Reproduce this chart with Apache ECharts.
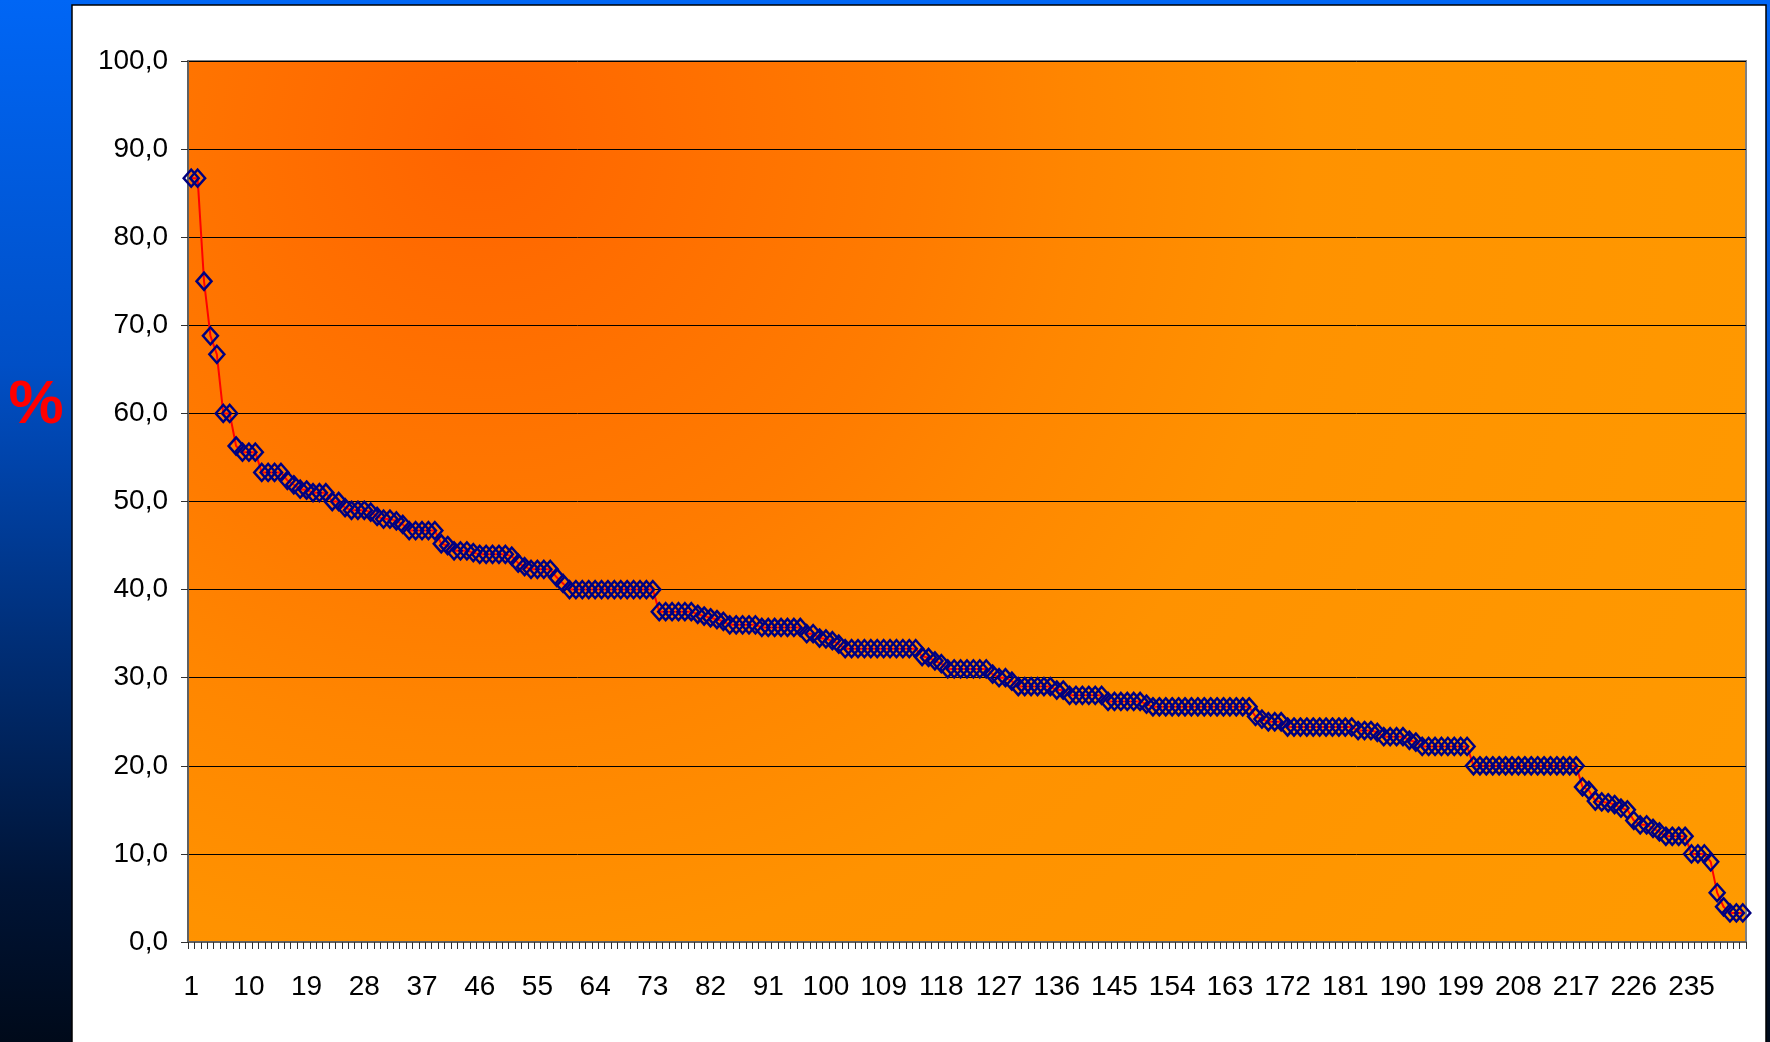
<!DOCTYPE html>
<html>
<head>
<meta charset="utf-8">
<title>Pourcentages classés</title>
<script src="https://cdn.jsdelivr.net/npm/echarts@6.0.0/dist/echarts.min.js"></script>
<style>
  html, body { margin: 0; padding: 0; }
  #chart { width: 1770px; height: 1042px; }
</style>
</head>
<body>
<div id="chart"></div>
<script>
// Ranked percentages, one value per item (items numbered 1..243)
const values = [
  86.7, 86.7, 75.0, 68.8, 66.7, 60.0, 60.0,
  56.3, 55.6, 55.6, 55.6, 53.3, 53.3, 53.3, 53.3,
  52.4, 51.9, 51.4, 51.3, 51.0, 51.0, 51.0, 50.0, 50.0,
  49.3, 49.0, 49.0, 49.0, 48.8, 48.3, 48.0, 48.0, 47.8, 47.4,
  46.7, 46.7, 46.7, 46.7, 46.7, 45.2, 45.0, 44.4, 44.4, 44.4,
  44.2, 44.0, 44.0, 44.0, 44.0, 44.0, 43.8, 43.0, 42.6,
  42.3, 42.3, 42.3, 42.3, 41.4, 40.7,
  40.0, 40.0, 40.0, 40.0, 40.0, 40.0, 40.0, 40.0, 40.0, 40.0, 40.0, 40.0, 40.0, 40.0,
  37.5, 37.5, 37.5, 37.5, 37.5, 37.5, 37.2, 37.0, 36.8, 36.6, 36.4,
  36.0, 36.0, 36.0, 36.0, 36.0, 35.7, 35.7, 35.7, 35.7, 35.7, 35.7, 35.7,
  35.0, 35.0, 34.5, 34.4, 34.2, 33.8,
  33.3, 33.3, 33.3, 33.3, 33.3, 33.3, 33.3, 33.3, 33.3, 33.3, 33.3, 33.3,
  32.4, 32.3, 31.9, 31.6,
  31.0, 31.0, 31.0, 31.0, 31.0, 31.0, 31.0,
  30.4, 30.0, 30.0, 29.6,
  29.0, 29.0, 29.0, 29.0, 29.0, 29.0,
  28.6, 28.6,
  28.0, 28.0, 28.0, 28.0, 28.0, 28.0,
  27.3, 27.3, 27.3, 27.3, 27.3, 27.3,
  27.0,
  26.7, 26.7, 26.7, 26.7, 26.7, 26.7, 26.7, 26.7, 26.7, 26.7, 26.7, 26.7, 26.7, 26.7, 26.7, 26.7,
  25.6, 25.3,
  25.0, 25.0, 25.0,
  24.4, 24.4, 24.4, 24.4, 24.4, 24.4, 24.4, 24.4, 24.4, 24.4, 24.4,
  24.0, 24.0, 24.0,
  23.8,
  23.3, 23.3, 23.3, 23.3,
  22.9, 22.7,
  22.2, 22.2, 22.2, 22.2, 22.2, 22.2, 22.2, 22.2,
  20.0, 20.0, 20.0, 20.0, 20.0, 20.0, 20.0, 20.0, 20.0, 20.0, 20.0, 20.0, 20.0, 20.0, 20.0, 20.0, 20.0,
  17.6, 17.2, 16.0, 15.9, 15.8, 15.6, 15.2, 15.0,
  13.8, 13.3, 13.3, 12.9, 12.5, 12.0, 12.0, 12.0, 12.0,
  10.0, 10.0, 10.0, 9.1, 5.6, 4.0, 3.3, 3.3, 3.3
];

// Item numbers along the horizontal axis
const categories = values.map((_, i) => String(i + 1));

// Vertical axis range and step
const yMin = 0;
const yMax = 100;
const yStep = 10;

// Every 9th item number is printed under the axis
const xLabelEvery = 9;

const unitLabel = '%';

const labelFont = "'Liberation Sans', Arial, sans-serif";

const chart = echarts.init(document.getElementById('chart'), null, { renderer: 'canvas' });

chart.setOption({
  animation: false,
  backgroundColor: {
    type: 'linear', x: 0, y: 0, x2: 0, y2: 1,
    colorStops: [
      { offset: 0, color: '#0066f5' },
      { offset: 0.35, color: '#004fc6' },
      { offset: 0.62, color: '#002e76' },
      { offset: 0.85, color: '#001436' },
      { offset: 1, color: '#000a1a' }
    ]
  },
  graphic: [
    {
      type: 'rect', z: -5, silent: true,
      shape: { x: 72, y: 5, width: 1694, height: 1045 },
      style: { fill: '#ffffff', stroke: '#000000', lineWidth: 1.5 }
    },
    {
      type: 'text', z: 10, silent: true,
      x: 36, y: 406,
      style: {
        text: unitLabel,
        fill: '#ff0000',
        font: "bold 62px 'Liberation Sans', Arial, sans-serif",
        align: 'center',
        verticalAlign: 'middle'
      }
    }
  ],
  grid: {
    left: 188, top: 61, right: 24, bottom: 100,
    show: true,
    borderColor: '#808080',
    borderWidth: 2,
    backgroundColor: {
      type: 'radial', x: 480, y: 140, r: 1500, global: true,
      colorStops: [
        { offset: 0, color: '#ff6400' },
        { offset: 0.3, color: '#ff7c00' },
        { offset: 0.4, color: '#ff8600' },
        { offset: 0.55, color: '#ff9200' },
        { offset: 0.8, color: '#ff9700' },
        { offset: 1, color: '#ff9a00' }
      ]
    }
  },
  xAxis: {
    type: 'category',
    data: categories,
    boundaryGap: true,
    axisLine: { show: true, lineStyle: { color: '#606060', width: 2 } },
    axisTick: { show: true, interval: 0, length: 7, lineStyle: { color: '#303030', width: 1 } },
    axisLabel: {
      interval: xLabelEvery - 1,
      margin: 31,
      color: '#000000',
      fontSize: 28,
      fontFamily: labelFont
    },
    splitLine: { show: false }
  },
  yAxis: {
    type: 'value',
    min: yMin,
    max: yMax,
    interval: yStep,
    axisLine: { show: true, lineStyle: { color: '#606060', width: 2 } },
    axisTick: { show: true, length: 7, lineStyle: { color: '#303030', width: 1 } },
    axisLabel: {
      margin: 20,
      color: '#000000',
      fontSize: 28,
      fontFamily: labelFont,
      formatter: v => v.toFixed(1).replace('.', ',')
    },
    splitLine: { show: true, lineStyle: { color: '#000000', width: 1 } }
  },
  series: [{
    type: 'line',
    data: values,
    showAllSymbol: true,
    symbol: 'diamond',
    symbolSize: [15, 17],
    itemStyle: { color: 'rgba(0,0,0,0)', borderColor: '#000080', borderWidth: 2.5 },
    lineStyle: { color: '#ff0000', width: 2 },
    emphasis: { disabled: true },
    silent: true
  }]
});
</script>
</body>
</html>
